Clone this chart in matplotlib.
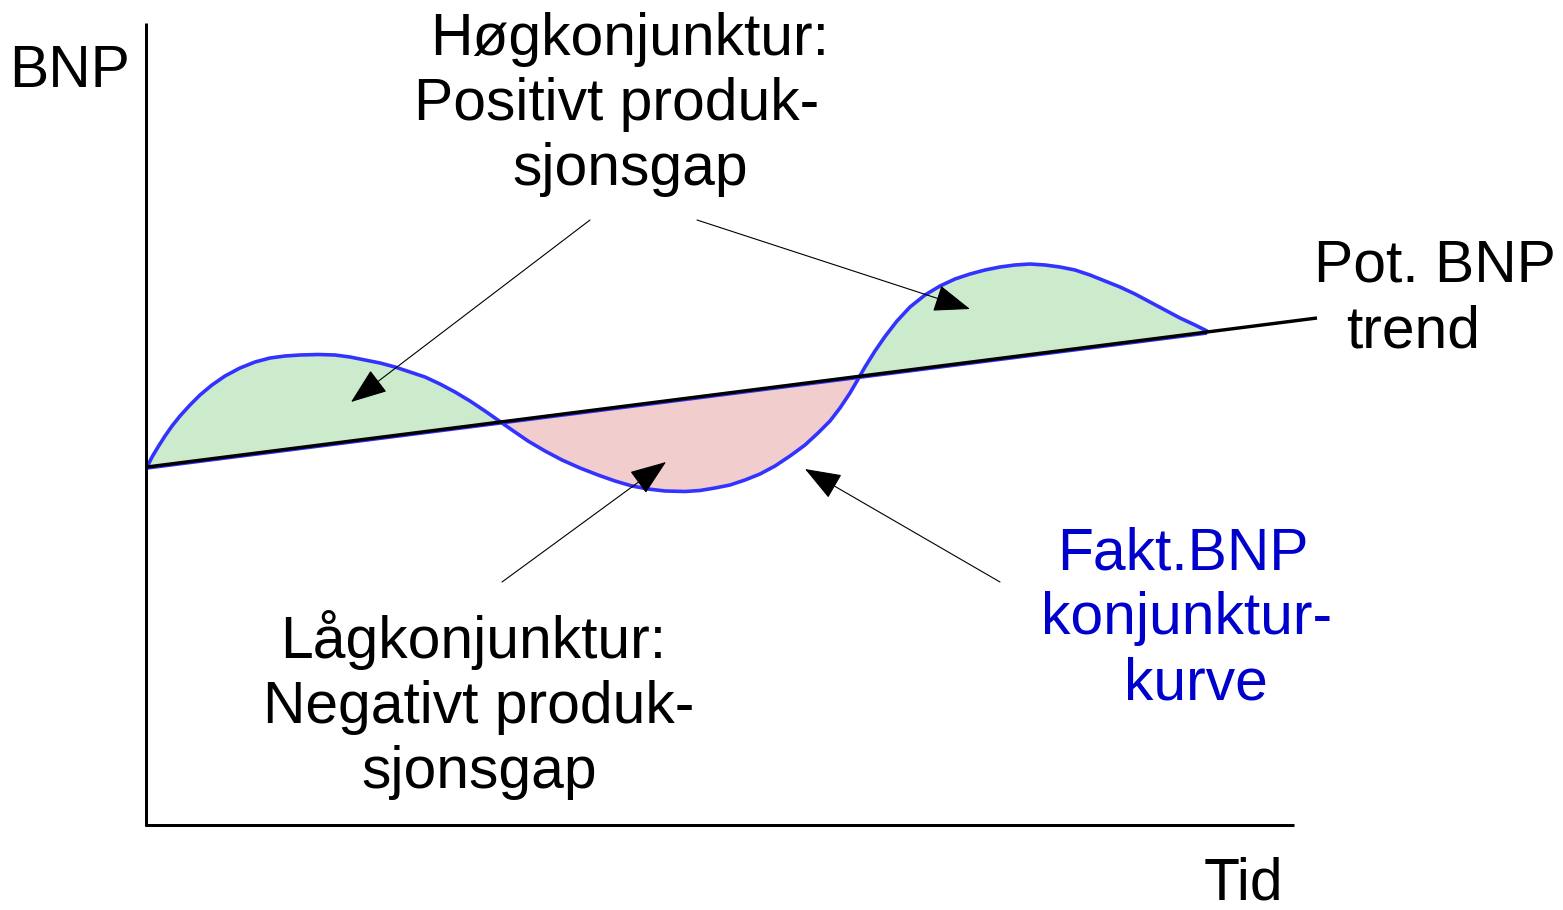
import numpy as np
import matplotlib
matplotlib.use("Agg")
import matplotlib.pyplot as plt

# ---- data (picture units: x to the right, y downward) ----
trend_x = [147, 1317]
trend_y = [467, 318]

curve_x = [147, 152, 158, 165, 172, 180, 190, 200, 212, 225, 240, 255, 270, 285,
           300, 318, 335, 350, 365, 380, 395, 410, 425, 440, 455, 470, 485, 495,
           502, 512, 528, 545, 562, 580, 598, 615, 632, 648, 665, 685, 700, 715,
           730, 745, 760, 775, 790, 805, 818, 830, 840, 850, 857, 865, 875, 885,
           897, 910, 925, 940, 955, 970, 985, 1000, 1015, 1030, 1045, 1060, 1075,
           1090, 1105, 1120, 1135, 1150, 1165, 1180, 1195, 1207]
curve_y = [467, 457, 447, 436, 426, 416, 405, 395, 385, 376, 368, 362, 358, 356,
           355, 354.5, 355, 357, 360, 363, 367, 372, 377, 384, 392, 401, 411, 418,
           423, 430, 441, 451, 460, 468, 475, 481, 486, 489, 491, 491.5, 490.5, 488,
           485, 480, 474, 466, 456, 445, 433, 421, 408, 393, 381, 367, 351, 336.5,
           321, 307, 295, 286, 279, 274, 270, 267, 265, 264, 265, 267, 270,
           275, 281, 287, 294, 302, 310, 318, 325, 331]

arrow_starts = [(590, 220), (697, 220), (502, 582), (1000, 582)]
arrow_tips = [(351, 402), (970, 309), (666, 462), (805, 469)]

labels_hog = ["Høgkonjunktur:", "Positivt produk-", "sjonsgap"]
labels_lag = ["Lågkonjunktur:", "Negativt produk-", "sjonsgap"]
labels_fakt = ["Fakt.BNP", "konjunktur-", "kurve"]
labels_pot = ["Pot. BNP", "trend"]
label_y = "BNP"
label_x = "Tid"

# ---- figure ----
W, H = 1563, 910
fig = plt.figure(figsize=(W / 100, H / 100), dpi=100)
ax = fig.add_axes([0, 0, 1, 1])
ax.set_xlim(0, W)
ax.set_ylim(H, 0)
ax.axis("off")

FONT = "Liberation Sans"
FS = 42.3
PX = 72 / 100  # points per pixel

cx = np.array(curve_x, float)
cy = np.array(curve_y, float)
ty = np.interp(cx, trend_x, trend_y)

green = "#cceacc"
pink = "#f2cdcd"
ax.fill_between(cx, cy, ty, where=cy <= ty, interpolate=True, color=green, lw=0, zorder=1)
ax.fill_between(cx, cy, ty, where=cy >= ty, interpolate=True, color=pink, lw=0, zorder=1)

# blue rim of the filled shapes along the trend
ax.plot(cx, ty + 1.3, color="#3333ff", lw=3 * PX, zorder=2, solid_capstyle="butt")
ax.plot(cx, cy, color="#3333ff", lw=3.6 * PX, zorder=3,
        solid_joinstyle="round", solid_capstyle="round")
ax.plot(trend_x, trend_y, color="black", lw=3.4 * PX, zorder=4, solid_capstyle="butt")

# axes lines
ax.plot([146, 146], [23, 826], color="black", lw=3 * PX, solid_capstyle="butt", zorder=5)
ax.plot([145, 1294], [825, 825], color="black", lw=3 * PX, solid_capstyle="butt", zorder=5)

# arrows
for s, t in zip(arrow_starts, arrow_tips):
    ax.annotate("", xy=t, xytext=s,
                arrowprops=dict(arrowstyle="-|>,head_length=0.4,head_width=0.15",
                                mutation_scale=58, lw=0.8, color="black",
                                shrinkA=0, shrinkB=0), zorder=6)


def block(lines, centers, baseline0, color="black", step=65):
    for i, (txt, c) in enumerate(zip(lines, centers)):
        ax.text(c, baseline0 + i * step, txt, ha="center", va="baseline",
                fontsize=FS, family=FONT, color=color, zorder=7)


block(labels_hog, [630, 617, 630], 55)
block(labels_lag, [473, 479, 479], 658)
block(labels_fakt, [1183, 1187, 1196], 569, color="#0000cc")
block(labels_pot, [1435, 1413], 282)
ax.text(70, 87, label_y, ha="center", va="baseline", fontsize=FS, family=FONT, color="black")
ax.text(1243, 900, label_x, ha="center", va="baseline", fontsize=FS, family=FONT, color="black")

fig.savefig("out.png", dpi=100, facecolor="white")
